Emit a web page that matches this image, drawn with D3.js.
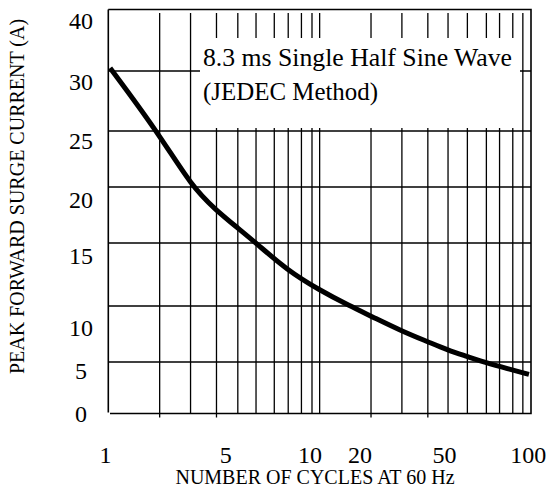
<!DOCTYPE html>
<html>
<head>
<meta charset="utf-8">
<script src="https://cdn.jsdelivr.net/npm/d3@7"></script>
<style>
body { margin: 0; background: #fff; }
svg text { font-family: "Liberation Serif", "Times New Roman", Times, serif; fill: #000; }
</style>
</head>
<body>
<svg width="548" height="492"></svg>
<script>
const select = d3.select
const scaleLog = d3.scaleLog
const scaleLinear = d3.scaleLinear
const line = d3.line
const curveBasis = d3.curveBasis

// surge curve
const cycles = [1.02, 1.7, 2.49, 3.23, 4.06, 5, 7.01, 10, 13.9, 17.5, 24.5, 32.6, 40.5, 49.8, 57.4, 71.3, 97.8]
const current = [30.5, 25, 20, 17.95, 16.4, 15, 12.85, 11.25, 10, 9.1, 7.75, 6.8, 6.05, 5.5, 5.1, 4.55, 3.8]

// grid as it is drawn on the sheet (not quite even)
const xGrid = [1.75, 2.45, 3.25, 4.1, 5, 6.1, 7.1, 8.2, 9.2, 10, 17.5, 24.5, 32.5, 40.5, 50, 61.5, 71, 82, 91.5]
const xStubs = [1.75, 3.25, 17.5, 32.5]
const xLabels = ['1', '5', '10', '20', '50', '100']
const xLabelAt = [0.97, 3.6, 9, 15.5, 39, 97]

const yTicks = [0, 5, 10, 15, 20, 25, 30, 40]
const yGrid = [5, 10, 15, 20, 25, 30]
const yLabels = ['0', '5', '10', '15', '20', '25', '30', '40']
const yLabelAt = [0, 4.2, 8.1, 14, 18.9, 24.1, 29.1, 38.2]

const boxText = ['8.3 ms Single Half Sine Wave', '(JEDEC Method)']

const svg = select('svg')
const plotL = 108.3, plotR = 531, plotT = 9.5, plotB = 413.5

const xScale = scaleLog().domain([1, 100]).range([plotL, plotR])
// sheet axis is uneven, so piecewise
const yScale = scaleLinear().domain(yTicks).range([plotB, 362, 306, 243, 187, 131, 71, plotT])

const g = svg.append('g')

// vertical grid
g.selectAll('.vgrid')
    .data(xGrid).enter()
    .append('line')
    .attr('x1', d => xScale(d)).attr('x2', d => xScale(d))
    .attr('y1', 13).attr('y2', plotB)
    .attr('stroke', '#000').attr('stroke-width', 1.3)

g.selectAll('.stub')
    .data(xStubs).enter()
    .append('line')
    .attr('x1', d => xScale(d)).attr('x2', d => xScale(d))
    .attr('y1', plotB).attr('y2', plotB + 4)
    .attr('stroke', '#000').attr('stroke-width', 1.3)

// horizontal grid
g.selectAll('.hgrid')
    .data(yGrid).enter()
    .append('line')
    .attr('x1', plotL).attr('x2', plotR)
    .attr('y1', d => yScale(d)).attr('y2', d => yScale(d))
    .attr('stroke', '#000').attr('stroke-width', 1.5)

// label box knocks out the grid
g.append('rect')
    .attr('x', 200).attr('y', 38)
    .attr('width', 320).attr('height', 90)
    .attr('fill', '#fff')

g.selectAll('.boxtxt')
    .data(boxText).enter()
    .append('text')
    .attr('x', 203)
    .attr('y', (d, i) => 66 + i * 33.5)
    .attr('font-size', 25)
    .attr('textLength', (d, i) => i ? 175 : 309)
    .attr('lengthAdjust', 'spacingAndGlyphs')
    .text(d => d)

// frame
g.append('path')
    .attr('d', `M${plotL},${plotT}H${plotR}V${plotB}H110M${plotL},${plotT}V${plotB - 1}`)
    .attr('fill', 'none')
    .attr('stroke', '#000').attr('stroke-width', 1.6)

const pts = cycles.map((c, i) => [c, current[i]])
const surge = line()
    .x(d => xScale(d[0]))
    .y(d => yScale(d[1]))
    .curve(curveBasis)

g.append('path')
    .attr('d', surge(pts))
    .attr('fill', 'none')
    .attr('stroke', '#000')
    .attr('stroke-width', 5)

// tick labels
g.selectAll('.xlab')
    .data(xLabels).enter()
    .append('text')
    .attr('x', (d, i) => xScale(xLabelAt[i]))
    .attr('y', 455)
    .attr('dy', '0.35em')
    .attr('text-anchor', 'middle')
    .attr('font-size', 24)
    .text(d => d)

g.selectAll('.ylab')
    .data(yLabels).enter()
    .append('text')
    .attr('x', 81)
    .attr('y', (d, i) => yScale(yLabelAt[i]))
    .attr('dy', '0.35em')
    .attr('text-anchor', 'middle')
    .attr('font-size', 24)
    .text(d => d)

// axis titles
g.append('text')
    .attr('x', 315).attr('y', 477)
    .attr('dy', '0.35em')
    .attr('text-anchor', 'middle')
    .attr('font-size', 20)
    .text('NUMBER OF CYCLES AT 60 Hz')

g.append('text')
    .attr('transform', 'translate(16.5, 196.5) rotate(-90)')
    .attr('dy', '0.35em')
    .attr('text-anchor', 'middle')
    .attr('font-size', 20)
    .text('PEAK FORWARD SURGE CURRENT (A)')
</script>
</body>
</html>
